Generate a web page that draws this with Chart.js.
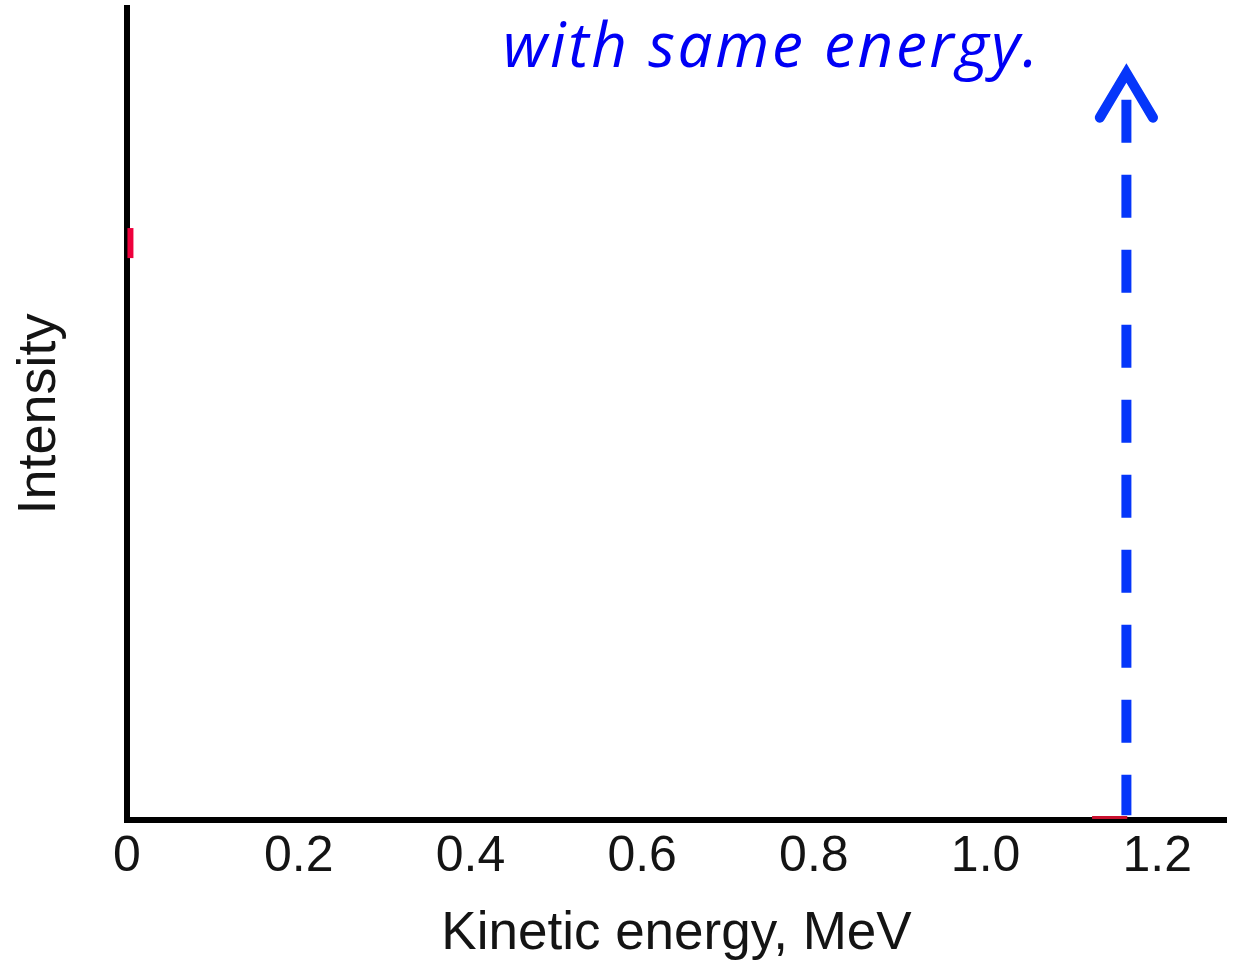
<!DOCTYPE html>
<html>
<head>
<meta charset="utf-8">
<script src="https://cdn.jsdelivr.net/npm/chart.js@4/dist/chart.umd.min.js"></script>
<style>
    html, body { margin: 0; padding: 0; background: #fff; }
    .wrap { position: relative; width: 1237px; height: 961px; }
    .note {
        position: absolute;
        left: 503px;
        top: 12px;
        font-family: "Open Sans", sans-serif;
        font-style: italic;
        font-size: 62px;
        line-height: 1;
        letter-spacing: 2.6px;
        color: #0000f5;
        white-space: nowrap;
    }
</style>
</head>
<body>
<div class="wrap">
    <canvas id="spectrumChart" width="1237" height="961"></canvas>
    <div class="note">with same energy.</div>
</div>
<script>
// x axis (MeV)
const xTickValues = [0, 0.2, 0.4, 0.6, 0.8, 1.0, 1.2];
const xTickLabels = ['0', '0.2', '0.4', '0.6', '0.8', '1.0', '1.2'];

// dashed arrow: monoenergetic line
const shaftX = [1.164, 1.164];
const shaftY = [0.887, 0.006];
const headX = [1.133, 1.164, 1.195];
const headY = [0.865, 0.920, 0.865];

// leftover bits of the red curve
const redStubX = [0.004, 0.004];
const redStubY = [0.692, 0.729];
const redBaseX = [1.124, 1.165];
const redBaseY = [0.003, 0.003];

const toPoints = (xs, ys) => xs.map((x, i) => ({ x, y: ys[i] }));

const textColor = '#141414';
const arrowBlue = '#0536fa';

new Chart(document.getElementById('spectrumChart').getContext('2d'), {
    type: 'line',
    data: {
        datasets: [
            {
                data: toPoints(redStubX, redStubY),
                borderColor: '#ee003c',
                borderWidth: 6,
                pointRadius: 0
            },
            {
                data: toPoints(redBaseX, redBaseY),
                borderColor: '#c8102e',
                borderWidth: 3,
                pointRadius: 0
            },
            {
                data: toPoints(shaftX, shaftY),
                borderColor: arrowBlue,
                borderWidth: 10,
                borderDash: [43, 32],
                borderCapStyle: 'butt',
                pointRadius: 0
            },
            {
                data: toPoints(headX, headY),
                borderColor: arrowBlue,
                borderWidth: 10,
                borderCapStyle: 'round',
                borderJoinStyle: 'miter',
                pointRadius: 0
            }
        ]
    },
    options: {
        responsive: false,
        devicePixelRatio: 1,
        animation: false,
        layout: { padding: { top: 8, right: 11, left: 0, bottom: 0 } },
        plugins: {
            legend: { display: false },
            tooltip: { enabled: false }
        },
        elements: { line: { tension: 0, fill: false } },
        scales: {
            x: {
                type: 'linear',
                min: 0,
                max: 1.28,
                afterBuildTicks: (scale) => {
                    scale.ticks = xTickValues.map((v) => ({ value: v }));
                },
                afterFit: (scale) => { scale.height = 141; },
                grid: { display: false, drawTicks: false },
                border: { display: true, color: '#000', width: 6 },
                ticks: {
                    padding: 7,
                    color: textColor,
                    maxRotation: 0,
                    autoSkip: false,
                    font: { family: '"Liberation Sans", Arial, sans-serif', size: 50 },
                    callback: (value, index) => xTickLabels[index]
                },
                title: {
                    display: true,
                    text: 'Kinetic energy, MeV',
                    color: textColor,
                    padding: 0,
                    font: { family: '"Liberation Sans", Arial, sans-serif', size: 53, lineHeight: 1.0 }
                }
            },
            y: {
                type: 'linear',
                min: 0,
                max: 1,
                afterFit: (scale) => { scale.width = 127; },
                grid: { display: false, drawTicks: false },
                border: { display: true, color: '#000', width: 6 },
                ticks: { display: false },
                title: {
                    display: true,
                    text: 'Intensity',
                    color: textColor,
                    padding: { top: 8, bottom: 0 },
                    font: { family: '"Liberation Sans", Arial, sans-serif', size: 54 }
                }
            }
        }
    }
});
</script>
</body>
</html>
